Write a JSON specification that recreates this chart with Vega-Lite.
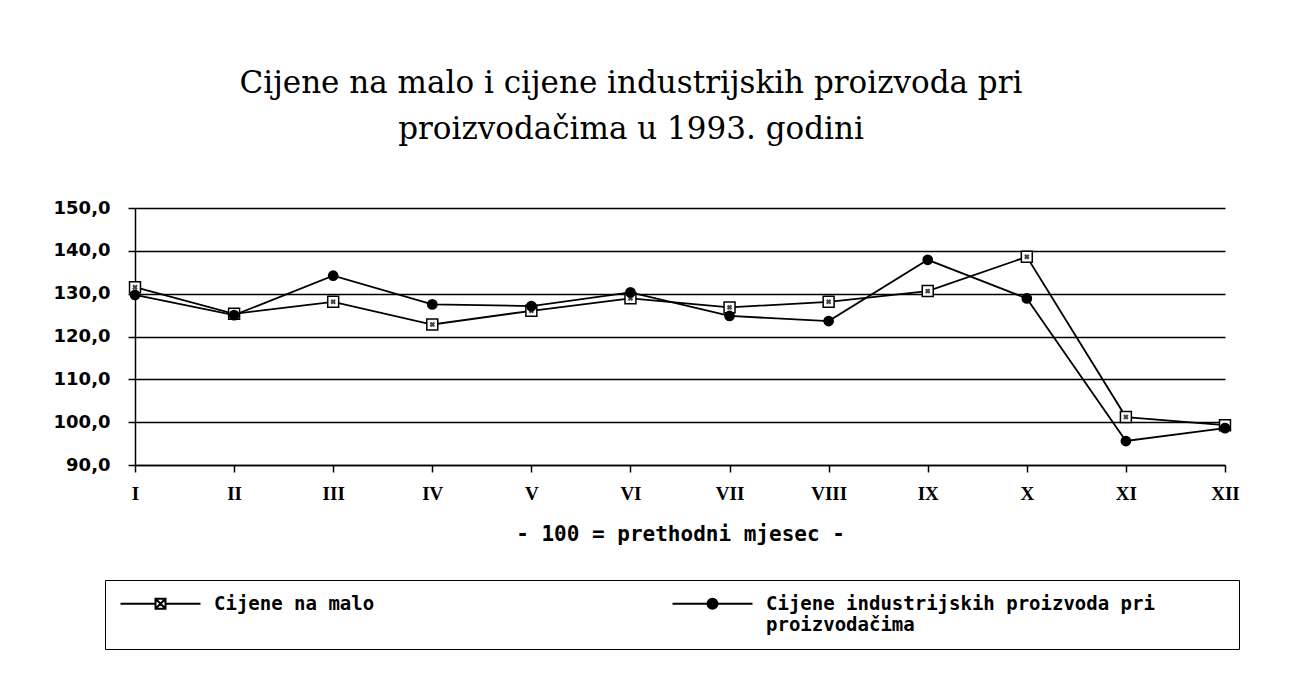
{
  "$schema": "https://vega.github.io/schema/vega-lite/v6.json",
  "width": 1090,
  "height": 257,
  "autosize": {"type": "none"},
  "padding": {"left": 135, "top": 208, "right": 78, "bottom": 218},
  "background": "white",
  "title": {
    "text": ["Cijene na malo i cijene industrijskih proizvoda pri", "proizvodačima u 1993. godini"],
    "font": "DejaVu Serif",
    "fontSize": 31,
    "fontWeight": "normal",
    "color": "black",
    "anchor": "middle",
    "dx": -49,
    "offset": 53,
    "lineHeight": 46
  },
  "config": {
    "view": {"stroke": null},
    "axis": {
      "domainColor": "black",
      "tickColor": "black",
      "labelColor": "black",
      "titleColor": "black",
      "gridColor": "black"
    }
  },
  "data": {
    "values": [
      {"month": "I", "series": "Cijene na malo", "value": 131.5},
      {"month": "II", "series": "Cijene na malo", "value": 125.3},
      {"month": "III", "series": "Cijene na malo", "value": 128.1},
      {"month": "IV", "series": "Cijene na malo", "value": 122.8},
      {"month": "V", "series": "Cijene na malo", "value": 126.0},
      {"month": "VI", "series": "Cijene na malo", "value": 128.9},
      {"month": "VII", "series": "Cijene na malo", "value": 126.8},
      {"month": "VIII", "series": "Cijene na malo", "value": 128.1},
      {"month": "IX", "series": "Cijene na malo", "value": 130.6},
      {"month": "X", "series": "Cijene na malo", "value": 138.6},
      {"month": "XI", "series": "Cijene na malo", "value": 101.2},
      {"month": "XII", "series": "Cijene na malo", "value": 99.3},
      {"month": "I", "series": "Cijene industrijskih proizvoda pri proizvodačima", "value": 129.7},
      {"month": "II", "series": "Cijene industrijskih proizvoda pri proizvodačima", "value": 125.0},
      {"month": "III", "series": "Cijene industrijskih proizvoda pri proizvodačima", "value": 134.2},
      {"month": "IV", "series": "Cijene industrijskih proizvoda pri proizvodačima", "value": 127.5},
      {"month": "V", "series": "Cijene industrijskih proizvoda pri proizvodačima", "value": 127.1},
      {"month": "VI", "series": "Cijene industrijskih proizvoda pri proizvodačima", "value": 130.3},
      {"month": "VII", "series": "Cijene industrijskih proizvoda pri proizvodačima", "value": 124.8},
      {"month": "VIII", "series": "Cijene industrijskih proizvoda pri proizvodačima", "value": 123.6},
      {"month": "IX", "series": "Cijene industrijskih proizvoda pri proizvodačima", "value": 137.9},
      {"month": "X", "series": "Cijene industrijskih proizvoda pri proizvodačima", "value": 128.9},
      {"month": "XI", "series": "Cijene industrijskih proizvoda pri proizvodačima", "value": 95.6},
      {"month": "XII", "series": "Cijene industrijskih proizvoda pri proizvodačima", "value": 98.6}
    ]
  },
  "encoding": {
    "x": {
      "field": "month",
      "type": "ordinal",
      "sort": ["I", "II", "III", "IV", "V", "VI", "VII", "VIII", "IX", "X", "XI", "XII"],
      "scale": {"type": "point", "padding": 0},
      "axis": {
        "title": "-  100 = prethodni mjesec  -",
        "titleFont": "DejaVu Sans Mono",
        "titleFontSize": 21,
        "titleFontWeight": "bold",
        "titlePadding": 20,
        "labelAngle": 0,
        "labelFont": "Liberation Serif",
        "labelFontSize": 19,
        "labelFontWeight": "bold",
        "labelPadding": 12,
        "tickSize": 7,
        "tickWidth": 1.5,
        "domainWidth": 1.5,
        "grid": false
      }
    },
    "y": {
      "field": "value",
      "type": "quantitative",
      "scale": {"domain": [90, 150], "nice": false, "zero": false},
      "axis": {
        "title": null,
        "values": [90, 100, 110, 120, 130, 140, 150],
        "labelExpr": "replace(format(datum.value, '.1f'), '.', ',')",
        "labelFont": "DejaVu Sans",
        "labelFontSize": 18,
        "labelFontWeight": "bold",
        "labelPadding": 18,
        "tickSize": 7,
        "tickWidth": 1.5,
        "domainWidth": 1.5,
        "grid": true,
        "gridWidth": 1.5
      }
    }
  },
  "layer": [
    {
      "mark": {"type": "line", "color": "black", "strokeWidth": 1.8},
      "encoding": {"detail": {"field": "series"}}
    },
    {
      "transform": [{"filter": "datum.series == 'Cijene na malo'"}],
      "mark": {"type": "point", "shape": "square", "filled": false, "fill": "white", "stroke": "black", "strokeWidth": 1.5, "size": 120, "opacity": 1}
    },
    {
      "transform": [{"filter": "datum.series == 'Cijene na malo'"}],
      "mark": {"type": "point", "shape": "cross", "angle": 45, "filled": true, "color": "#444444", "size": 30, "opacity": 1}
    },
    {
      "transform": [{"filter": "datum.series != 'Cijene na malo'"}],
      "mark": {"type": "point", "shape": "circle", "filled": true, "color": "black", "size": 115, "opacity": 1}
    },
    {
      "mark": {"type": "point", "filled": false, "color": "black", "size": 0},
      "encoding": {
        "shape": {
          "field": "series",
          "type": "nominal",
          "sort": ["Cijene na malo", "Cijene industrijskih proizvoda pri proizvodačima"],
          "scale": {"range": [
            "M-1,0H3.375M4.625,0H9M3.375,-0.625H4.625V0.625H3.375ZM3.375,-0.625L4.625,0.625M3.375,0.625L4.625,-0.625",
            "M-1,0H3.375M4.625,0H9M4.625,0A0.625,0.625 0 1,1 3.375,0A0.625,0.625 0 1,1 4.625,0ZM4.4375,0A0.4375,0.4375 0 1,1 3.5625,0A0.4375,0.4375 0 1,1 4.4375,0ZM4.25,0A0.25,0.25 0 1,1 3.75,0A0.25,0.25 0 1,1 4.25,0ZM4.094,0A0.094,0.094 0 1,1 3.906,0A0.094,0.094 0 1,1 4.094,0Z"
          ]},
          "legend": {
            "title": null,
            "orient": "none",
            "legendX": -30,
            "legendY": 372,
            "direction": "horizontal",
            "columns": 2,
            "columnPadding": 293,
            "padding": 14,
            "strokeColor": "black",
            "symbolSize": 256,
            "symbolStrokeWidth": 2,
            "symbolStrokeColor": "black",
            "symbolFillColor": "white",
            "symbolOpacity": 1,
            "labelOffset": 76,
            "labelFont": "DejaVu Sans Mono",
            "labelFontSize": 19,
            "labelFontWeight": "bold",
            "labelColor": "black",
            "labelBaseline": "middle",
            "labelLimit": 0,
            "labelExpr": "datum.label == 'Cijene na malo' ? ['Cijene na malo', ''] : ['Cijene industrijskih proizvoda pri\u2800\u2800\u2800\u2800\u2800', 'proizvodačima']"
          }
        }
      }
    }
  ]
}
